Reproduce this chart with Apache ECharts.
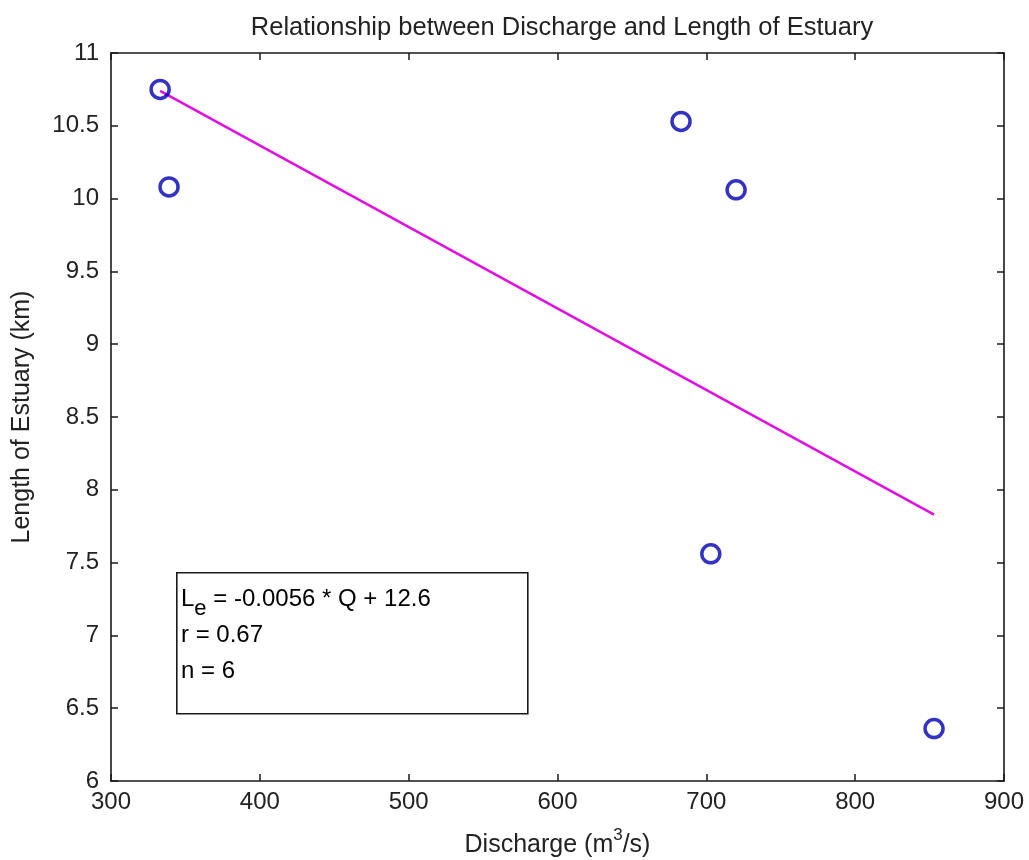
<!DOCTYPE html>
<html>
<head>
<meta charset="utf-8">
<title>Relationship between Discharge and Length of Estuary</title>
<script src="https://cdn.jsdelivr.net/npm/echarts@6/dist/echarts.min.js"></script>
<style>
  html, body { margin: 0; padding: 0; background: #ffffff; }
  #chart { width: 1029px; height: 860px; }
</style>
</head>
<body>
<div id="chart"></div>
<script>
// Observed discharge (m^3/s) and estuary length (km)
const discharge = [333, 339, 683, 720, 703, 853];
const estuaryLength = [10.75, 10.08, 10.53, 10.06, 7.56, 6.36];

// Regression line endpoints (L_e = -0.0056 * Q + 12.6)
const fitQ = [333, 853];
const fitL = [10.74, 7.83];

// Axis ranges and steps
const xRange = [300, 900], xStep = 100;
const yRange = [6, 11], yStep = 0.5;

// Annotation text
const fitLabel = ['{a|L}{sub|e}{a| = -0.0056 * Q + 12.6}', '{a|r = 0.67}', '{a|n = 6}'];

const FONT = 'Liberation Sans, Arial, sans-serif';
const points = discharge.map((q, i) => [q, estuaryLength[i]]);
const fitLine = fitQ.map((q, i) => [q, fitL[i]]);

const tickStyle = { show: true, inside: true, length: 7, lineStyle: { color: '#1a1a1a', width: 1.5 } };
const lineStyle = { color: '#1a1a1a', width: 1.6 };

const chart = echarts.init(document.getElementById('chart'), null, { renderer: 'canvas' });
chart.setOption({
  backgroundColor: '#ffffff',
  animation: false,
  title: {
    text: 'Relationship between Discharge and Length of Estuary',
    left: 557, top: 10, textAlign: 'center',
    textStyle: { fontFamily: FONT, fontSize: 25.5, fontWeight: 'normal', color: '#222' }
  },
  grid: { left: 111, right: 25, top: 53, bottom: 79, outerBoundsMode: 'none', containLabel: false },
  xAxis: [
    {
      type: 'value', min: xRange[0], max: xRange[1], interval: xStep,
      position: 'bottom',
      name: '{a|Discharge (m}{sup|3}{a|/s)}',
      nameLocation: 'middle', nameGap: 46,
      nameTextStyle: {
        rich: {
          a: { fontFamily: FONT, fontSize: 25, color: '#222' },
          sup: { fontFamily: FONT, fontSize: 17, color: '#222', verticalAlign: 'top', padding: [0, 0, 20, 0] }
        }
      },
      axisLine: { show: true, onZero: false, lineStyle },
      axisTick: tickStyle,
      axisLabel: { fontFamily: FONT, fontSize: 24, color: '#222', margin: 9 },
      splitLine: { show: false }
    },
    {
      type: 'value', min: xRange[0], max: xRange[1], interval: xStep,
      position: 'top',
      axisLine: { show: true, onZero: false, lineStyle },
      axisTick: tickStyle,
      axisLabel: { show: false },
      splitLine: { show: false }
    }
  ],
  yAxis: [
    {
      type: 'value', min: yRange[0], max: yRange[1], interval: yStep,
      position: 'left',
      name: 'Length of Estuary (km)',
      nameLocation: 'middle', nameGap: 76,
      nameTextStyle: { fontFamily: FONT, fontSize: 25, color: '#222' },
      axisLine: { show: true, onZero: false, lineStyle },
      axisTick: tickStyle,
      axisLabel: { fontFamily: FONT, fontSize: 24, color: '#222', margin: 12 },
      splitLine: { show: false }
    },
    {
      type: 'value', min: yRange[0], max: yRange[1], interval: yStep,
      position: 'right',
      axisLine: { show: true, onZero: false, lineStyle },
      axisTick: tickStyle,
      axisLabel: { show: false },
      splitLine: { show: false }
    }
  ],
  graphic: [
    {
      type: 'rect', left: 176, top: 572, z: 10,
      shape: { width: 351, height: 141 },
      style: { fill: '#ffffff', stroke: '#1a1a1a', lineWidth: 1.6 }
    },
    {
      type: 'text', left: 181, top: 578, z: 11,
      style: {
        text: fitLabel.join('\n'),
        lineHeight: 36,
        rich: {
          a: { fontFamily: FONT, fontSize: 24, color: '#222', lineHeight: 36 },
          sub: { fontFamily: FONT, fontSize: 22, color: '#222', lineHeight: 36, padding: [20, 0, 0, 0] }
        }
      }
    }
  ],
  series: [
    {
      name: 'Fit',
      type: 'line',
      data: fitLine,
      symbol: 'none',
      lineStyle: { color: '#e010e0', width: 2.5 },
      z: 2
    },
    {
      name: 'Observed',
      type: 'scatter',
      data: points,
      symbol: 'circle',
      symbolSize: 18,
      itemStyle: { color: 'rgba(255,255,255,0)', borderColor: '#0000b4', borderWidth: 3.5 },
      z: 3
    }
  ]
});
</script>
</body>
</html>
